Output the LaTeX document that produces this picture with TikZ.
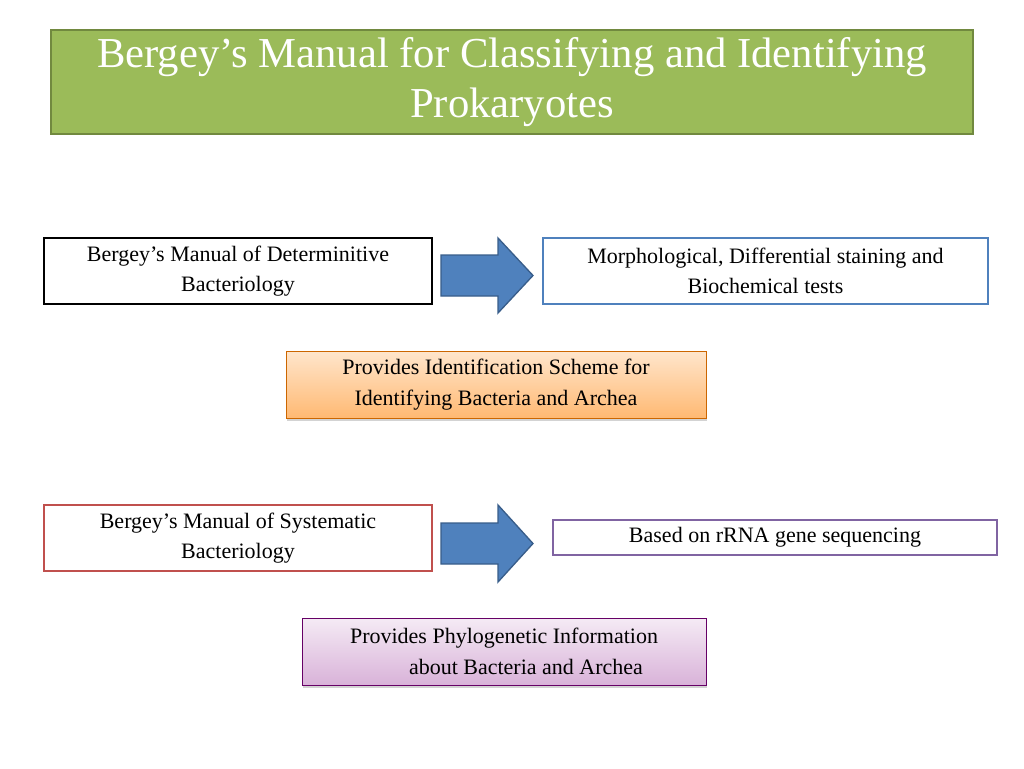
\documentclass[tikz,border=0pt]{standalone}
\usepackage{fontspec}
\setmainfont{Liberation Serif}
\usetikzlibrary{shadows}
\definecolor{tgreen}{HTML}{9BBB59}
\definecolor{tgreenb}{HTML}{71893F}
\definecolor{ablue}{HTML}{4F81BD}
\definecolor{abluen}{HTML}{385D8A}
\definecolor{bred}{HTML}{C0504D}
\definecolor{bpurp}{HTML}{8064A2}
\begin{document}
\begin{tikzpicture}[x=0.75pt,y=-0.75pt,
  box/.style={draw,line width=1.4pt,fill=white,font=\fontsize{16.5}{23}\selectfont,align=center,inner sep=0pt},
  shade/.style={draw=#1!80!black,line width=0.6pt,font=\fontsize{16.5}{23}\selectfont,align=center,inner sep=0pt,drop shadow={opacity=0.35,shadow xshift=1pt,shadow yshift=-2pt}},
  barrow/.style={fill=ablue,draw=abluen,line width=1pt}]
\useasboundingbox (0,0) rectangle (1024,768);
\node[fill=tgreen,draw=tgreenb,line width=1.4pt,minimum width=922*0.75pt,minimum height=104*0.75pt,text=white,align=center,font=\fontsize{32}{38}\selectfont,inner sep=0pt] (title) at (512,82) {Bergey’s Manual for Classifying and Identifying\\Prokaryotes};
\node[box,draw=black,minimum width=388*0.75pt,minimum height=66*0.75pt] (b1) at (238,271) {Bergey’s Manual of Determinitive\\Bacteriology};
\node[box,draw=ablue,minimum width=445*0.75pt,minimum height=66*0.75pt] (b2) at (765.5,271) {Morphological, Differential staining and\\Biochemical tests};
\node[shade=orange,top color=orange!20,bottom color=orange!55,minimum width=420*0.75pt,minimum height=67*0.75pt] (o) at (496,384.5) {Provides Identification Scheme for\\Identifying Bacteria and Archea};
\node[box,draw=bred,minimum width=388*0.75pt,minimum height=66*0.75pt] (b3) at (238,538) {Bergey’s Manual of Systematic\\Bacteriology};
\node[box,draw=bpurp,minimum width=444*0.75pt,minimum height=35*0.75pt] (b4) at (775,537.5) {Based on rRNA gene sequencing};
\node[shade=violet,top color=violet!8,bottom color=violet!30,minimum width=404*0.75pt,minimum height=67*0.75pt] (p) at (504,651.5) {Provides Phylogenetic Information\\\hspace*{2em}about Bacteria and Archea};
\draw[barrow] (441,255) -- (498,255) -- (498,238) -- (533,275.5) -- (498,313) -- (498,296) -- (441,296) -- cycle;
\draw[barrow] (441,523) -- (498,523) -- (498,505) -- (533,543.5) -- (498,582) -- (498,564) -- (441,564) -- cycle;
\end{tikzpicture}
\end{document}
